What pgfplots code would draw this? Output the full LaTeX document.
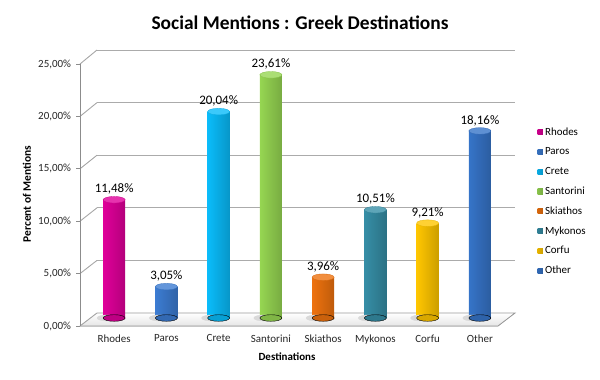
\documentclass[border=0pt]{standalone}
\usepackage{pgfplots}
\pgfplotsset{compat=1.18}
\usepackage{fontspec}
\setmainfont{Carlito}
\definecolor{cRhodes}{RGB}{224,0,154}
\definecolor{cParos}{RGB}{60,124,210}
\definecolor{cCrete}{RGB}{10,188,250}
\definecolor{cSantorini}{RGB}{150,214,82}
\definecolor{cSkiathos}{RGB}{238,114,14}
\definecolor{cMykonos}{RGB}{54,142,166}
\definecolor{cCorfu}{RGB}{255,198,0}
\definecolor{cOther}{RGB}{54,116,200}
\newcommand{\cyl}[4]{%
  \addplot[only marks, mark=*, mark size=10bp, forget plot,
    mark options={xshift=-7bp, yscale=0.3, fill=black!15, draw=black!15}]
    coordinates {(#1,0)};
  \addplot[only marks, mark=*, mark size=11bp, forget plot,
    mark options={yscale=0.3, draw=none, fill=#3!85!black}]
    coordinates {(#1,0)};
  \addplot[ybar, bar width=22bp, bar shift=0pt, draw=none,
    left color=#3, middle color=#3!72!white, right color=#3!80!black,
    nodes near coords={\pgfmathprintnumber[fixed,fixed zerofill,precision=2,use comma]{\pgfplotspointmeta}\%},
    nodes near coords style={font=\fontsize{13}{15}\selectfont, text=black, anchor=south, inner sep=0pt, yshift=5bp},
    legend image code/.code={\fill[left color=#3!90!black, middle color=#3!65!white, right color=#3!80!black] (0bp,-2.6bp) rectangle (5.4bp,2.6bp); \path (0bp,0bp) -- (7.5bp,0bp);}]
    coordinates {(#1,#2)};
  \addlegendentry{#4}
  \addplot[only marks, mark=*, mark size=11bp, forget plot,
    mark options={yscale=0.3, draw=#3!90!black, line width=0.3bp, fill=#3!80!white}]
    coordinates {(#1,#2)};
}
\begin{document}
\begin{tikzpicture}[x=1bp,y=1bp]
\path[use as bounding box] (0,0) rectangle (600,379);
% back wall grid
\begin{axis}[at={(97bp,66bp)}, anchor=south west, scale only axis,
  width=418bp, height=263bp, xmin=0, xmax=1, ymin=0, ymax=25,
  xtick=\empty, ytick={0,5,...,25}, yticklabels={}, major tick length=0pt,
  axis line style={draw=none}, ymajorgrids, grid style={draw=black!33, line width=0.9bp}]
\addplot[draw=none] coordinates {(0,0)};
\end{axis}
% floor
\fill[top color=white, bottom color=black!10] (80,53) -- (498,53) -- (515,66) -- (97,66) -- cycle;
\draw[black!40, line width=0.8bp] (80,53) -- (498,53) -- (515,66) -- (97,66);
% connectors
\foreach \i in {0,...,5} \draw[black!35, line width=0.9bp] (80,53+52.4*\i) -- (97,66+52.6*\i);
% front axis with tick labels
\begin{axis}[at={(80bp,53bp)}, anchor=south west, scale only axis,
  width=10bp, height=262bp, xmin=0, xmax=1, ymin=0, ymax=25,
  axis lines*=left, x axis line style={draw=none}, xtick=\empty,
  y axis line style={draw=black!45, line width=0.9bp},
  ytick={0,5,...,25}, tick align=outside, major tick length=4bp,
  tick style={draw=black!45, line width=0.9bp},
  /pgf/number format/assume math mode=true,
  yticklabel={\pgfmathprintnumber[fixed,fixed zerofill,precision=2,use comma]{\tick}\%},
  yticklabel style={font=\fontsize{11}{13}\selectfont, xshift=-1.5bp, text=black!85}]
\addplot[draw=none] coordinates {(0,0)};
\end{axis}
% bars
\begin{axis}[at={(88bp,61bp)}, anchor=south west, scale only axis, clip=false,
  width=418bp, height=257.5bp, xmin=-0.5, xmax=7.5, ymin=0, ymax=25,
  axis line style={draw=none}, ytick=\empty, major tick length=0pt,
  /pgf/number format/assume math mode=true,
  xtick={0,...,7}, xticklabels={Rhodes,Paros,Crete,Santorini,Skiathos,Mykonos,Corfu,Other},
  xticklabel style={font=\fontsize{11}{13}\selectfont, yshift=-13bp, text=black!85},
  legend style={at={(1.075,0.742)}, anchor=north west, draw=none, fill=none,
    font=\fontsize{11}{13}\selectfont, row sep=9.8bp, inner sep=0pt,
    nodes={inner sep=0pt, text height=8bp, text depth=2bp}},
  legend cell align=left]
\cyl{0}{11.48}{cRhodes}{Rhodes}
\cyl{1}{3.05}{cParos}{Paros}
\cyl{2}{20.04}{cCrete}{Crete}
\cyl{3}{23.61}{cSantorini}{Santorini}
\cyl{4}{3.96}{cSkiathos}{Skiathos}
\cyl{5}{10.51}{cMykonos}{Mykonos}
\cyl{6}{9.21}{cCorfu}{Corfu}
\cyl{7}{18.16}{cOther}{Other}
\end{axis}
\node[font=\bfseries\fontsize{19.5}{22}\selectfont] at (300,356) {Social Mentions : Greek Destinations};
\node[font=\bfseries\fontsize{11.5}{13}\selectfont, rotate=90] at (27,185) {Percent of Mentions};
\node[font=\bfseries\fontsize{11}{13}\selectfont] at (287,22) {Destinations};
\end{tikzpicture}
\end{document}
